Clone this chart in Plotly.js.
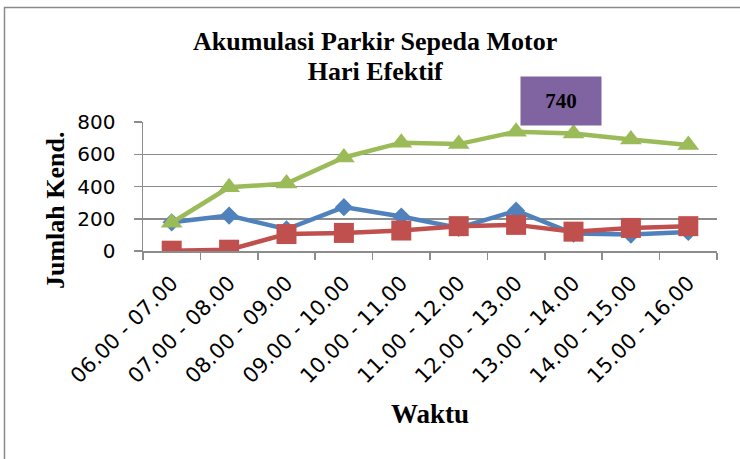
<!DOCTYPE html>
<html>
<head>
<meta charset="utf-8">
<script src="https://cdn.plot.ly/plotly-3.0.1.min.js"></script>
<style>
  html, body { margin: 0; padding: 0; background: #ffffff; }
  #chart { width: 740px; height: 459px; }
</style>
</head>
<body>
<div id="chart"></div>
<script>
const categories = ["06.00 - 07.00", "07.00 - 08.00", "08.00 - 09.00", "09.00 - 10.00", "10.00 - 11.00",
                    "11.00 - 12.00", "12.00 - 13.00", "13.00 - 14.00", "14.00 - 15.00", "15.00 - 16.00"];
const seriesBlue  = [178, 220, 135, 272, 214, 143, 250, 108, 102, 118];
const seriesRed   = [2, 8, 105, 112, 127, 154, 162, 120, 143, 154];
const seriesGreen = [175, 395, 418, 580, 672, 663, 740, 728, 692, 658];
const yTicks = [0, 200, 400, 600, 800];
const peakIndex = 6;

const serif = "'Liberation Serif', 'Times New Roman', serif";
const sans = "'DejaVu Sans', sans-serif";
const gridCol = "#8c8c8c";

const traces = [
  { x: categories, y: seriesBlue, type: "scatter", mode: "lines+markers", name: "Series1",
    line: { color: "#4F81BD", width: 4.5 },
    marker: { symbol: "diamond", size: 14, color: "#4F81BD" } },
  { x: categories, y: seriesRed, type: "scatter", mode: "lines+markers", name: "Series2",
    line: { color: "#C0504D", width: 4.5 },
    marker: { symbol: "square", size: 20, color: "#C0504D" } },
  { x: categories, y: seriesGreen, type: "scatter", mode: "lines+markers", name: "Series3",
    line: { color: "#9BBB59", width: 4.5 },
    marker: { symbol: "triangle-up", size: 19, color: "#9BBB59" } }
];

// paper-coordinate helpers (plot area: x 143..717 px, y 122..251 px)
const px = v => (v - 143) / 574;
const py = v => (251 - v) / 129;

const layout = {
  width: 740, height: 459,
  margin: { l: 143, r: 23, t: 122, b: 208, pad: 0 },
  paper_bgcolor: "#ffffff", plot_bgcolor: "#ffffff",
  showlegend: false,
  title: {
    text: "<span style='font-size:26px'>Akumulasi Parkir Sepeda Motor<br>Hari Efektif</span>",
    font: { family: serif, size: 23, color: "#000000", weight: "bold" },
    xref: "container", x: 0.507, xanchor: "center",
    yref: "container", y: 0.89, yanchor: "top"
  },
  xaxis: {
    type: "category",
    range: [-0.5, categories.length - 0.5],
    showgrid: false, zeroline: false,
    showline: true, linecolor: gridCol, linewidth: 1.5,
    ticks: "outside", tickson: "boundaries", ticklen: 7, tickcolor: gridCol, tickwidth: 1.5,
    tickangle: -45,
    ticklabelstandoff: 10,
    tickfont: { family: sans, size: 21, color: "#000000" }
  },
  yaxis: {
    range: [0, 800],
    tickvals: yTicks, ticktext: yTicks.map(String),
    showgrid: true, gridcolor: gridCol, gridwidth: 1.5,
    zeroline: false,
    showline: true, linecolor: gridCol, linewidth: 1.5,
    ticks: "outside", ticklen: 8, tickcolor: gridCol, tickwidth: 1.5,
    ticklabelstandoff: 14,
    tickfont: { family: sans, size: 20, color: "#000000" }
  },
  annotations: [
    { text: String(seriesGreen[peakIndex]), x: categories[peakIndex], y: seriesGreen[peakIndex],
      xref: "x", yref: "y", showarrow: false, xshift: 45, yshift: 31,
      width: 80, height: 48, borderpad: 0, bgcolor: "#8064A2",
      font: { family: serif, size: 21, color: "#000000", weight: "bold" } },
    { text: "Jumlah Kend.", xref: "paper", yref: "paper", x: px(55), y: py(210),
      showarrow: false, textangle: -90, xanchor: "center", yanchor: "middle",
      font: { family: serif, size: 26, color: "#000000", weight: "bold" } },
    { text: "Waktu", xref: "paper", yref: "paper", x: px(430), y: py(414),
      showarrow: false, xanchor: "center", yanchor: "middle",
      font: { family: serif, size: 27, color: "#000000", weight: "bold" } }
  ],
  shapes: [
    { type: "rect", xref: "paper", yref: "paper", x0: px(4.5), x1: px(760), y0: py(480), y1: py(7.5),
      line: { color: "#8a8a8a", width: 1.5 }, fillcolor: "rgba(0,0,0,0)", layer: "below" }
  ]
};

Plotly.newPlot("chart", traces, layout, { staticPlot: true, displayModeBar: false });
</script>
</body>
</html>
